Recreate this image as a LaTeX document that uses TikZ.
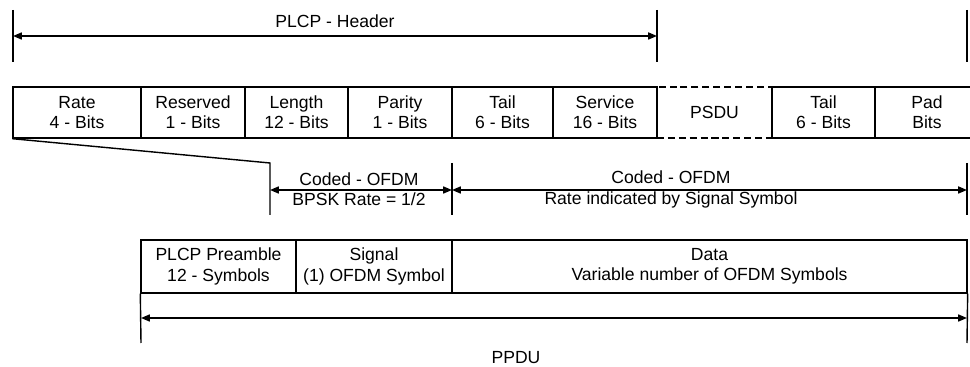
\documentclass[tikz,border=0pt]{standalone}
\usepackage{fontspec}
\setmainfont{Liberation Sans}
\usetikzlibrary{arrows.meta}
\begin{document}
\begin{tikzpicture}[x=0.02cm,y=-0.02cm,
    every node/.style={font=\fontsize{10}{11.5}\selectfont, align=center, inner sep=0pt},
    field/.style={draw, line width=0.8pt, minimum height=1.02cm},
    frame/.style={draw, line width=0.8pt, minimum height=1.06cm},
    dim/.style={line width=0.8pt, {Triangle[length=5pt,width=4pt]}-{Triangle[length=5pt,width=4pt]}},
    tick/.style={line width=0.8pt}]
  \clip (0,0) rectangle (970,367);
  % PLCP header fields
  \node[field, minimum width=2.56cm] (rate) at (77,112.5) {Rate\\4 - Bits};
  \node[field, minimum width=2.08cm] (reserved) at (193,112.5) {Reserved\\1 - Bits};
  \node[field, minimum width=2.06cm] (length) at (296.5,112.5) {Length\\12 - Bits};
  \node[field, minimum width=2.08cm] (parity) at (400,112.5) {Parity\\1 - Bits};
  \node[field, minimum width=2.02cm] (tail) at (502.5,112.5) {Tail\\6 - Bits};
  \node[field, minimum width=2.08cm] (service) at (605,112.5) {Service\\16 - Bits};
  \node[field, minimum width=2.06cm] (tailb) at (823.5,112.5) {Tail\\6 - Bits};
  \node[field, minimum width=2.08cm] (pad) at (927,112.5) {Pad\\Bits};
  \node[field, minimum width=2.3cm, line width=1.2pt, dash pattern=on 4pt off 2.2pt] (psdu) at (714.5,112.5) {PSDU};
  % PPDU frame
  \node[frame, minimum width=3.1cm] (preamble) at (218.5,266.5) {PLCP Preamble\\12 - Symbols};
  \node[frame, minimum width=3.12cm] (signal) at (374,266.5) {Signal\\(1) OFDM Symbol};
  \node[frame, minimum width=10.3cm] (data) at (709.5,266.5) {Data\\Variable number of OFDM Symbols};
  % header span
  \coordinate (hdrL) at (13,10);
  \coordinate (hdrLb) at (13,62);
  \coordinate (hdrLm) at (13,36);
  \coordinate (hdrR) at (657,10);
  \coordinate (hdrRb) at (657,62);
  \coordinate (hdrRm) at (657,36);
  \coordinate (endT) at (967,10);
  \coordinate (endTb) at (967,62);
  \draw[tick] (hdrL) -- (hdrLb);
  \draw[tick] (hdrR) -- (hdrRb);
  \draw[tick] (endT) -- (endTb);
  \draw[dim] (hdrLm) -- (hdrRm);
  \node (hdr) at (335,21) {PLCP - Header};
  % coding spans
  \coordinate (cL) at (270,163);
  \coordinate (cLb) at (270,215);
  \coordinate (cLm) at (270,190);
  \coordinate (cM) at (452,163);
  \coordinate (cMb) at (452,215);
  \coordinate (cMm) at (452,190);
  \coordinate (cR) at (967,163);
  \coordinate (cRb) at (967,215);
  \coordinate (cRm) at (967,190);
  \draw[tick] (rate.south west) -- (cL) -- (cLb);
  \draw[tick] (cM) -- (cMb);
  \draw[tick] (cR) -- (cRb);
  \draw[dim] (cLm) -- (cMm);
  \draw[dim] (cMm) -- (cRm);
  \node (bpsk) at (359,189.5) {Coded - OFDM\\BPSK Rate = 1/2};
  \node (coded) at (671,189.5) {Coded - OFDM\\Rate indicated by Signal Symbol};
  % PPDU span
  \coordinate (pL) at (141,343);
  \coordinate (pLm) at (141,318);
  \coordinate (pR) at (967,343);
  \coordinate (pRm) at (967,318);
  \draw[tick] (preamble.south west) -- (pL);
  \draw[tick] (data.south east) -- (pR);
  \draw[dim] (pLm) -- (pRm);
  \node (ppdu) at (516,358) {PPDU};
\end{tikzpicture}
\end{document}
